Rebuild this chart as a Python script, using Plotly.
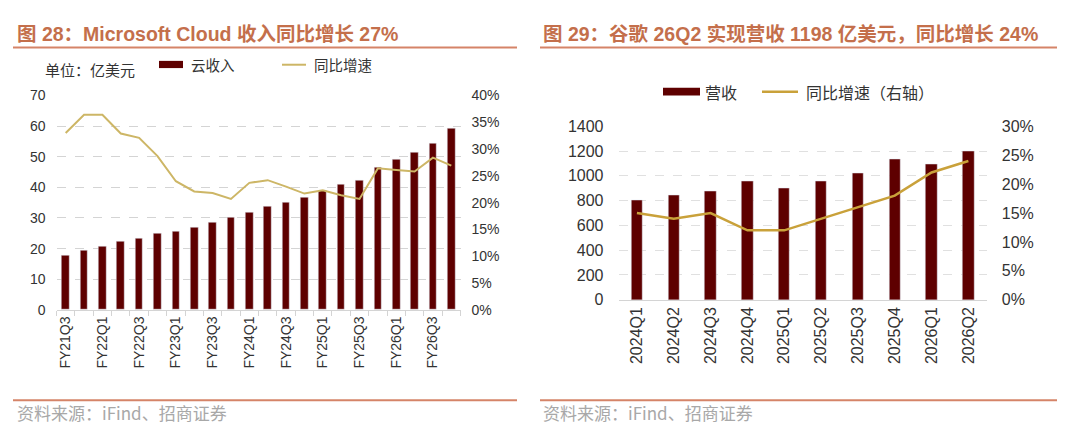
import plotly.graph_objects as go

W, H = 1080, 440

# ---------------------------------------------------------------------------
# data: 图 28 Microsoft Cloud
# ---------------------------------------------------------------------------
ms_quarters = [
    "FY21Q3", "FY21Q4",
    "FY22Q1", "FY22Q2", "FY22Q3", "FY22Q4",
    "FY23Q1", "FY23Q2", "FY23Q3", "FY23Q4",
    "FY24Q1", "FY24Q2", "FY24Q3", "FY24Q4",
    "FY25Q1", "FY25Q2", "FY25Q3", "FY25Q4",
    "FY26Q1", "FY26Q2", "FY26Q3", "FY26Q4",
]
ms_cloud_rev = [
    17.7, 19.4, 20.6, 22.2, 23.4, 24.9, 25.5, 26.9, 28.5, 30.3, 31.8,
    33.6, 35.1, 36.8, 38.9, 40.8, 42.4, 46.6, 49.0, 51.3, 54.4, 59.2,
]
ms_cloud_yoy = [
    0.330, 0.364, 0.364, 0.329, 0.321, 0.287, 0.240, 0.221, 0.218, 0.207, 0.237,
    0.242, 0.230, 0.217, 0.223, 0.214, 0.207, 0.264, 0.261, 0.258, 0.284, 0.269,
]
# only every other quarter is labelled
ms_tick_text = [q if i % 2 == 0 else "" for i, q in enumerate(ms_quarters)]

# ---------------------------------------------------------------------------
# data: 图 29 谷歌营收
# ---------------------------------------------------------------------------
goog_quarters = [
    "2024Q1", "2024Q2", "2024Q3", "2024Q4", "2025Q1",
    "2025Q2", "2025Q3", "2025Q4", "2026Q1", "2026Q2",
]
goog_revenue = [800, 842, 878, 960, 898, 960, 1019, 1135, 1097, 1198]
goog_yoy = [0.15, 0.14, 0.15, 0.12, 0.12, 0.14, 0.16, 0.18, 0.22, 0.24]

# ---------------------------------------------------------------------------
# styling
# ---------------------------------------------------------------------------
BAR_RED = "#5E0000"
LINE_KHAKI = "#CDB666"
LINE_GOLD = "#C9A13A"
TITLE_COLOR = "#C46F4B"
RULE_COLOR = "#D58468"
GRID = "#D4D4D4"
TEXT = "#333333"
FONT = "Liberation Sans, Arial, Noto Sans CJK SC"
CJK = "Noto Sans CJK SC, Liberation Sans"


def px(x):
    return x / W


def py(y):
    return 1 - y / H


fig = go.Figure()

fig.add_trace(go.Bar(
    x=ms_quarters, y=ms_cloud_rev, xaxis="x", yaxis="y",
    marker_color=BAR_RED, width=0.42, name="云收入",
))
fig.add_trace(go.Scatter(
    x=ms_quarters, y=ms_cloud_yoy, xaxis="x", yaxis="y2",
    mode="lines", line=dict(color=LINE_KHAKI, width=2), name="同比增速",
))
fig.add_trace(go.Bar(
    x=goog_quarters, y=goog_revenue, xaxis="x2", yaxis="y3",
    marker_color=BAR_RED, width=0.31, name="营收",
))
fig.add_trace(go.Scatter(
    x=goog_quarters, y=goog_yoy, xaxis="x2", yaxis="y4",
    mode="lines", line=dict(color=LINE_GOLD, width=2.5), name="同比增速（右轴）",
))

tick_font_l = dict(family=FONT, size=14, color=TEXT)
tick_font_r = dict(family=FONT, size=16, color=TEXT)

fig.update_layout(
    width=W,
    height=H,
    margin=dict(l=0, r=0, t=0, b=0),
    paper_bgcolor="white",
    plot_bgcolor="white",
    showlegend=False,
    bargap=0,
    xaxis=dict(
        domain=[px(56.5), px(460.5)], anchor="y", type="category",
        tickmode="array", tickvals=ms_quarters, ticktext=ms_tick_text,
        tickangle=-90, tickson="boundaries", ticks="outside", ticklen=5,
        tickcolor=GRID, showline=True, linecolor=GRID, showgrid=False,
        tickfont=tick_font_l,
    ),
    yaxis=dict(
        domain=[py(314), py(91)], anchor="x", range=[0, 70], dtick=10,
        showgrid=True, gridcolor=GRID, griddash="dash", zeroline=False,
        tickfont=tick_font_l, ticklabelstandoff=10,
    ),
    yaxis2=dict(
        overlaying="y", side="right", anchor="x", range=[0, 0.4], dtick=0.05,
        tickformat=".0%", showgrid=False, zeroline=False,
        tickfont=tick_font_l, ticklabelstandoff=10,
    ),
    xaxis2=dict(
        domain=[px(618.5), px(986.8)], anchor="y3", type="category",
        tickangle=-90, ticks="", showline=True, linecolor=GRID,
        showgrid=False, tickfont=tick_font_r,
    ),
    yaxis3=dict(
        domain=[py(303.5), py(123)], anchor="x2", range=[0, 1400], dtick=200,
        showgrid=True, gridcolor="#E0E0E0", griddash="dash", zeroline=False,
        tickfont=tick_font_r, ticklabelstandoff=14,
    ),
    yaxis4=dict(
        overlaying="y3", side="right", anchor="x2", range=[0, 0.3], dtick=0.05,
        tickformat=".0%", showgrid=False, zeroline=False,
        tickfont=tick_font_r, ticklabelstandoff=14,
    ),
)

# titles, rules and source lines for both panels
panels = [
    (15, 13, 517, "图 28：Microsoft Cloud 收入同比增长 27%"),
    (541, 540, 1057, "图 29：谷歌 26Q2 实现营收 1198 亿美元，同比增长 24%"),
]
for tx, x0, x1, title in panels:
    fig.add_annotation(
        x=px(tx), y=py(27), xref="paper", yref="paper", xanchor="left",
        yanchor="middle", showarrow=False, text=f"<b>{title}</b>",
        font=dict(family=FONT, size=19.5, color=TITLE_COLOR),
    )
    for ry in (41, 408):
        fig.add_shape(
            type="line", xref="paper", yref="paper",
            x0=px(x0), x1=px(x1), y0=py(ry), y1=py(ry),
            line=dict(color=RULE_COLOR, width=2),
        )
    fig.add_annotation(
        x=px(tx), y=py(421), xref="paper", yref="paper", xanchor="left",
        yanchor="middle", showarrow=False, text="资料来源：iFind、招商证券",
        font=dict(family=CJK, size=17, color="#A8A8A8"),
    )

# left panel header: unit + legend
fig.add_annotation(
    x=px(43), y=py(64), xref="paper", yref="paper", xanchor="left",
    yanchor="middle", showarrow=False, text="单位：亿美元",
    font=dict(family=CJK, size=15, color=TEXT),
)
fig.add_shape(type="rect", xref="paper", yref="paper",
              x0=px(159), x1=px(183), y0=py(55), y1=py(62.5),
              fillcolor=BAR_RED, line_width=0)
fig.add_annotation(
    x=px(189), y=py(59), xref="paper", yref="paper", xanchor="left",
    yanchor="middle", showarrow=False, text="云收入",
    font=dict(family=CJK, size=14.5, color=TEXT),
)
fig.add_shape(type="line", xref="paper", yref="paper",
              x0=px(282), x1=px(306), y0=py(59), y1=py(59),
              line=dict(color=LINE_KHAKI, width=2))
fig.add_annotation(
    x=px(312), y=py(59), xref="paper", yref="paper", xanchor="left",
    yanchor="middle", showarrow=False, text="同比增速",
    font=dict(family=CJK, size=14.5, color=TEXT),
)

# right panel legend
fig.add_shape(type="rect", xref="paper", yref="paper",
              x0=px(663), x1=px(700), y0=py(83), y1=py(91),
              fillcolor=BAR_RED, line_width=0)
fig.add_annotation(
    x=px(703), y=py(87), xref="paper", yref="paper", xanchor="left",
    yanchor="middle", showarrow=False, text="营收",
    font=dict(family=CJK, size=16, color=TEXT),
)
fig.add_shape(type="line", xref="paper", yref="paper",
              x0=px(762), x1=px(798), y0=py(87), y1=py(87),
              line=dict(color=LINE_GOLD, width=2.5))
fig.add_annotation(
    x=px(804), y=py(87), xref="paper", yref="paper", xanchor="left",
    yanchor="middle", showarrow=False, text="同比增速（右轴）",
    font=dict(family=CJK, size=16, color=TEXT),
)

# the page's default body margin would push the figure off its 0,0 origin
fig.write_html(
    "out.html",
    config={"displayModeBar": False},
    post_script="document.body.style.margin = '0';",
)
